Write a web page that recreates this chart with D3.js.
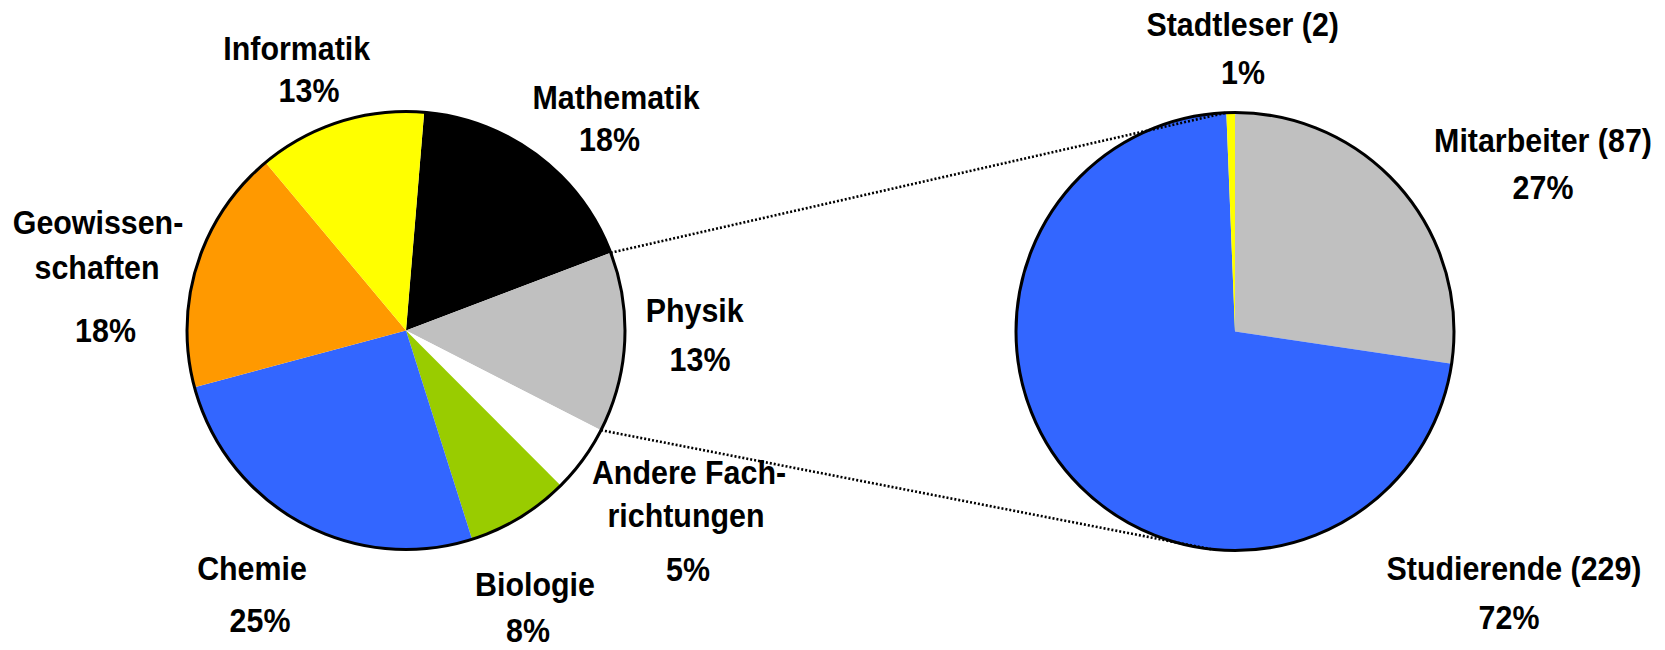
<!DOCTYPE html>
<html>
<head>
<meta charset="utf-8">
<script src="https://cdn.jsdelivr.net/npm/d3@7"></script>
<style>
  html, body { margin: 0; padding: 0; background: #fff; }
  svg { display: block; }
</style>
</head>
<body>
<svg id="chart"></svg>
<script>
// left pie: Fachrichtungen (shares in %)
const leftCategories = ["Mathematik", "Physik", "Andere Fach-|richtungen", "Biologie", "Chemie", "Geowissen-|schaften", "Informatik"]
const leftShares = [17.9, 13.3, 5.0, 7.6, 25.7, 18.1, 12.4]
const leftPercentLabels = ["18%", "13%", "5%", "8%", "25%", "18%", "13%"]
const leftColors = ["#000000", "#C0C0C0", "#FFFFFF", "#99CC00", "#3366FF", "#FF9900", "#FFFF00"]

// right pie: breakdown by user group
const rightCategories = ["Mitarbeiter", "Studierende", "Stadtleser"]
const rightCounts = [87, 229, 2]
const rightColors = ["#C0C0C0", "#3366FF", "#FFFF00"]

const width = 1665, height = 650
const radius = 219
const leftCenter = [406, 330.5], rightCenter = [1235, 331.5]
const deg = Math.PI / 180

// label lines: offsets from the pie centre, one per text line
const leftLabelPos = [
  [[210, -221.7], [203.5, -179.3]],
  [[288.7, -8.3], [294, 40]],
  [[283, 153], [280, 196.7], [282, 250]],
  [[129, 265], [122, 311]],
  [[-154, 249.3], [-146, 301]],
  [[-308, -97], [-309, -52], [-300.5, 11.7]],
  [[-109.3, -270.7], [-97, -228.3]]
]
const rightLabelPos = [
  [[308, -180], [308, -132.7]],
  [[279, 248.3], [274, 297.3]],
  [[7.7, -296], [8, -247.7]]
]

const svg = d3.select("#chart")
  .attr("width", width)
  .attr("height", height)
  .attr("viewBox", [0, 0, width, height])

const arc = d3.arc().innerRadius(0).outerRadius(radius)

function drawPie(center, values, colors, startAngle) {
  const pie = d3.pie().sort(null)
    .startAngle(startAngle)
    .endAngle(startAngle + 2 * Math.PI)
  const arcs = pie(values)
  const g = svg.append("g")
    .attr("transform", `translate(${center[0]},${center[1]})`)
  g.selectAll("path")
    .data(arcs)
    .join("path")
      .attr("d", arc)
      .attr("fill", (d, i) => colors[i])
  g.append("circle")
    .attr("r", radius)
    .attr("fill", "none")
    .attr("stroke", "#000")
    .attr("stroke-width", 3)
  return arcs
}

const leftArcs = drawPie(leftCenter, leftShares, leftColors, 4.76 * deg)
const rightArcs = drawPie(rightCenter, rightCounts, rightColors, 0)

// point on the rim for a given angle (d3 convention, 0 = 12 o'clock)
function rim(center, a) {
  return [center[0] + radius * Math.sin(a), center[1] - radius * Math.cos(a)]
}

// connector lines, excel style pie-of-pie
const stadt = rightArcs[2]
const connectors = [
  [rim(leftCenter, leftArcs[0].endAngle), rim(rightCenter, stadt.startAngle)],
  [rim(leftCenter, leftArcs[1].endAngle), rim(rightCenter, 186.3 * deg)]
]
svg.append("g")
  .selectAll("line")
  .data(connectors)
  .join("line")
    .attr("x1", d => d[0][0]).attr("y1", d => d[0][1])
    .attr("x2", d => d[1][0]).attr("y2", d => d[1][1])
    .attr("stroke", "#000")
    .attr("stroke-width", 2.6)
    .attr("stroke-dasharray", "2,2")

const total = d3.sum(rightCounts)
const rightText = rightCategories.map((c, i) =>
  [`${c} (${rightCounts[i]})`, Math.round(rightCounts[i] / total * 100) + "%"])
const leftText = leftCategories.map((c, i) => c.split("|").concat(leftPercentLabels[i]))

function drawLabels(center, texts, positions) {
  const rows = []
  texts.forEach((lines, i) => lines.forEach((t, j) => {
    rows.push({ text: t, x: center[0] + positions[i][j][0], y: center[1] + positions[i][j][1] })
  }))
  svg.append("g")
    .selectAll("text")
    .data(rows)
    .join("text")
      .attr("transform", d => `translate(${d.x},${d.y}) scale(0.935,1)`)
      .attr("text-anchor", "middle")
      .attr("font-family", "'Liberation Sans', Arial, sans-serif")
      .attr("font-weight", "bold")
      .attr("font-size", "32.5px")
      .attr("fill", "#000")
      .text(d => d.text)
}

drawLabels(leftCenter, leftText, leftLabelPos)
drawLabels(rightCenter, rightText, rightLabelPos)
</script>
</body>
</html>
